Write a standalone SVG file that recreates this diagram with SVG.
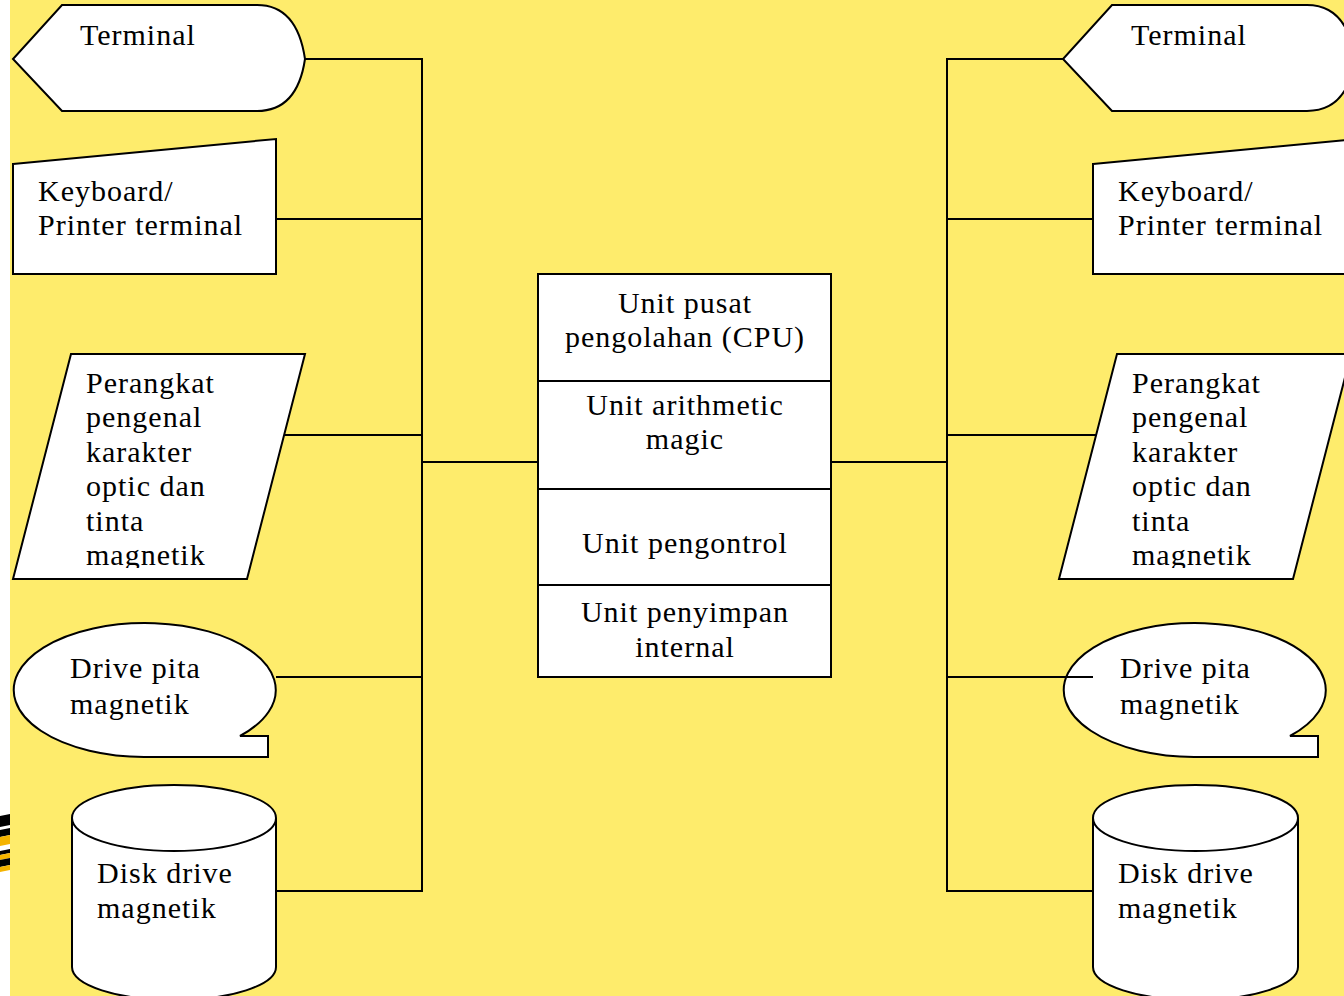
<svg xmlns="http://www.w3.org/2000/svg" width="1344" height="996" viewBox="0 0 1344 996">
  <defs>
    <style>
      .shape { fill: #ffffff; stroke: #000000; stroke-width: 2; stroke-linejoin: miter; }
      .wire { fill: none; stroke: #000000; stroke-width: 2; }
      .label { font-family: "Liberation Serif", "Times New Roman", serif; font-size: 30px; letter-spacing: 1px; fill: #000000; }
      .mid { text-anchor: middle; }
    </style>
    <clipPath id="stripClip"><rect x="0" y="800" width="10" height="90"/></clipPath>
    <clipPath id="ocrClipL"><rect x="0" y="340" width="340" height="228"/></clipPath>
    <clipPath id="ocrClipR"><rect x="1000" y="340" width="344" height="228"/></clipPath>
  </defs>

  <!-- page background -->
  <rect x="0" y="0" width="1344" height="996" fill="#ffffff"/>
  <rect x="10" y="0" width="1334" height="996" fill="#feec6c"/>

  <!-- decorative stripes in the left margin -->
  <g clip-path="url(#stripClip)">
    <polygon points="0,816 10,814 10,825 0,827" fill="#000000"/>
    <polygon points="0,830 10,828 10,835 0,837" fill="#000000"/>
    <polygon points="0,837 10,835 10,844 0,846" fill="#f5b400"/>
    <polygon points="0,851 10,849 10,853 0,855" fill="#000000"/>
    <polygon points="0,855 10,853 10,858 0,860" fill="#f5b400"/>
    <polygon points="0,860 10,858 10,865 0,867" fill="#000000"/>
    <polygon points="0,867 10,865 10,870 0,872" fill="#f5b400"/>
  </g>

  <!-- connectors -->
  <g id="connectors">
    <polyline class="wire" points="305,59 422,59 422,891 276,891"/>
    <line class="wire" x1="276" y1="219" x2="422" y2="219"/>
    <line class="wire" x1="284" y1="435" x2="422" y2="435"/>
    <line class="wire" x1="276" y1="677" x2="422" y2="677"/>
    <line class="wire" x1="422" y1="462" x2="538" y2="462"/>
    <polyline class="wire" points="1063,59 947,59 947,891 1093,891"/>
    <line class="wire" x1="947" y1="219" x2="1093" y2="219"/>
    <line class="wire" x1="947" y1="435" x2="1096" y2="435"/>
    <line class="wire" x1="831" y1="462" x2="947" y2="462"/>
  </g>

  <!-- left column -->
  <g id="terminal-left">
    <path class="shape" d="M62,5 H257 C285,5 300,25 305,59 C300,93 285,111 257,111 H62 L13,59 Z"/>
    <text class="label" x="80" y="45">Terminal</text>
  </g>
  <g id="keyboard-left">
    <polygon class="shape" points="13,164 276,139 276,274 13,274"/>
    <text class="label" x="38" y="201">Keyboard/</text>
    <text class="label" x="38" y="235">Printer terminal</text>
  </g>
  <g id="ocr-left">
    <polygon class="shape" points="71,354 305,354 247,579 13,579"/>
    <g clip-path="url(#ocrClipL)">
      <text class="label" x="86" y="393">Perangkat</text>
      <text class="label" x="86" y="427">pengenal</text>
      <text class="label" x="86" y="462">karakter</text>
      <text class="label" x="86" y="496">optic dan</text>
      <text class="label" x="86" y="531">tinta</text>
      <text class="label" x="86" y="565">magnetik</text>
    </g>
  </g>
  <g id="tape-left">
    <path class="shape" d="M240,736 L268,736 L268,757 L144,757 A131,67 0 1 1 240,736 Z"/>
    <text class="label" x="70" y="678">Drive pita</text>
    <text class="label" x="70" y="714">magnetik</text>
  </g>
  <g id="disk-left">
    <path class="shape" d="M72,818 V967 A102,33 0 0 0 276,967 V818"/>
    <ellipse class="shape" cx="174" cy="818" rx="102" ry="33"/>
    <text class="label" x="97" y="883">Disk drive</text>
    <text class="label" x="97" y="918">magnetik</text>
  </g>

  <!-- central processing unit -->
  <g id="cpu">
    <rect class="shape" x="538" y="274" width="293" height="403"/>
    <line class="wire" x1="538" y1="381" x2="831" y2="381"/>
    <line class="wire" x1="538" y1="489" x2="831" y2="489"/>
    <line class="wire" x1="538" y1="585" x2="831" y2="585"/>
    <text class="label mid" x="685" y="313">Unit pusat</text>
    <text class="label mid" x="685" y="347">pengolahan (CPU)</text>
    <text class="label mid" x="685" y="415">Unit arithmetic</text>
    <text class="label mid" x="685" y="449">magic</text>
    <text class="label mid" x="685" y="553">Unit pengontrol</text>
    <text class="label mid" x="685" y="622">Unit penyimpan</text>
    <text class="label mid" x="685" y="657">internal</text>
  </g>

  <!-- right column -->
  <g id="terminal-right">
    <path class="shape" d="M1112,5 H1307 C1335,5 1350,25 1355,59 C1350,93 1335,111 1307,111 H1112 L1063,59 Z"/>
    <text class="label" x="1131" y="45">Terminal</text>
  </g>
  <g id="keyboard-right">
    <polygon class="shape" points="1093,164 1356,139 1356,274 1093,274"/>
    <text class="label" x="1118" y="201">Keyboard/</text>
    <text class="label" x="1118" y="235">Printer terminal</text>
  </g>
  <g id="ocr-right">
    <polygon class="shape" points="1117,354 1351,354 1293,579 1059,579"/>
    <g clip-path="url(#ocrClipR)">
      <text class="label" x="1132" y="393">Perangkat</text>
      <text class="label" x="1132" y="427">pengenal</text>
      <text class="label" x="1132" y="462">karakter</text>
      <text class="label" x="1132" y="496">optic dan</text>
      <text class="label" x="1132" y="531">tinta</text>
      <text class="label" x="1132" y="565">magnetik</text>
    </g>
  </g>
  <g id="tape-right">
    <path class="shape" d="M1290,736 L1318,736 L1318,757 L1194,757 A131,67 0 1 1 1290,736 Z"/>
    <line class="wire" x1="947" y1="677" x2="1093" y2="677"/>
    <text class="label" x="1120" y="678">Drive pita</text>
    <text class="label" x="1120" y="714">magnetik</text>
  </g>
  <g id="disk-right">
    <path class="shape" d="M1093,818 V967 A102.5,33 0 0 0 1298,967 V818"/>
    <ellipse class="shape" cx="1195.5" cy="818" rx="102.5" ry="33"/>
    <text class="label" x="1118" y="883">Disk drive</text>
    <text class="label" x="1118" y="918">magnetik</text>
  </g>
</svg>
